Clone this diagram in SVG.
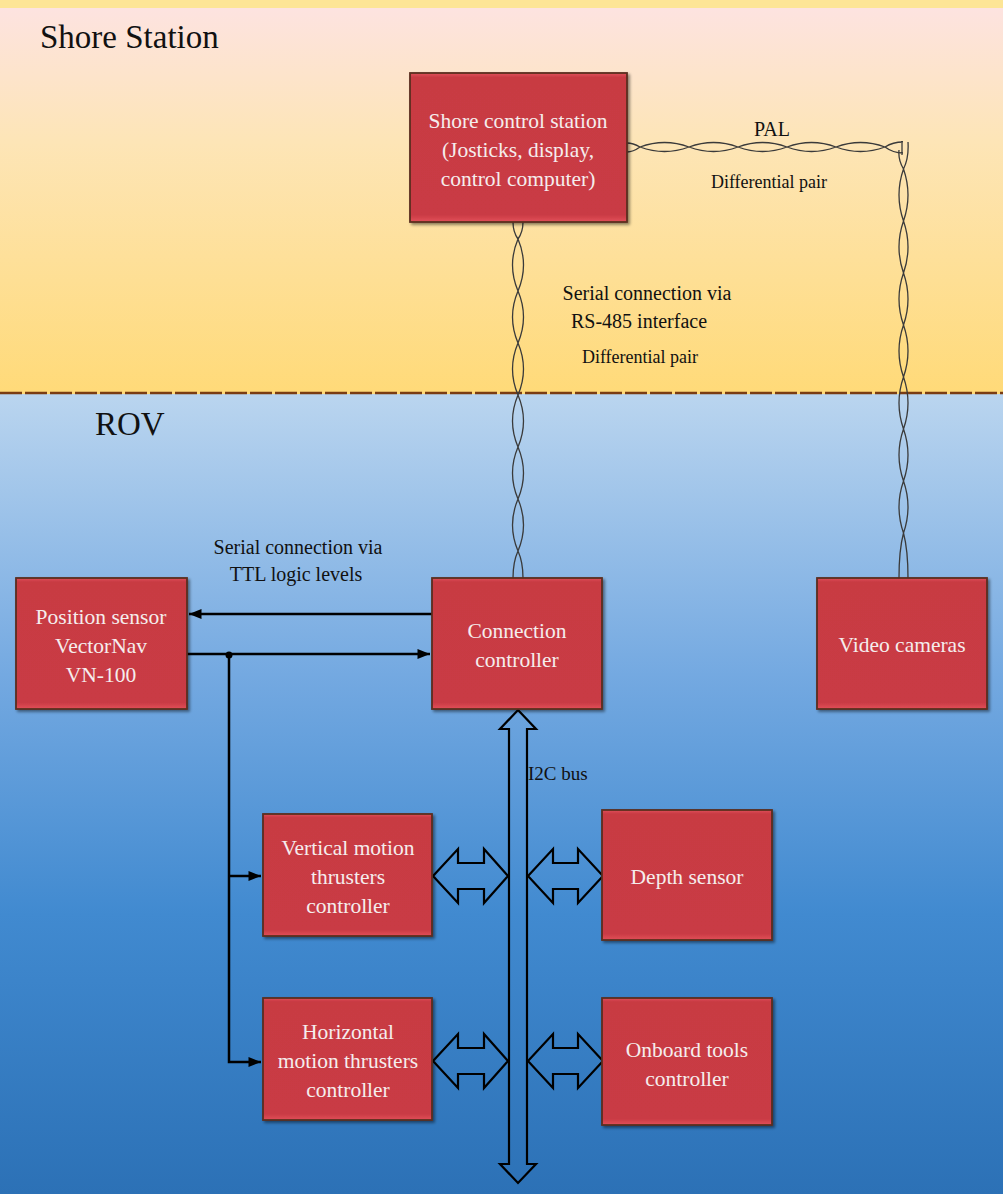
<svg xmlns="http://www.w3.org/2000/svg" width="1003" height="1194" viewBox="0 0 1003 1194">
  <defs>
    <linearGradient id="shoreBg" x1="0" y1="0" x2="0" y2="1">
      <stop offset="0" stop-color="#fde3e0"/>
      <stop offset="0.35" stop-color="#fde5b6"/>
      <stop offset="1" stop-color="#ffda78"/>
    </linearGradient>
    <linearGradient id="seaBg" x1="0" y1="0" x2="0" y2="1">
      <stop offset="0" stop-color="#bad5ef"/>
      <stop offset="0.35" stop-color="#74a9e1"/>
      <stop offset="0.65" stop-color="#418ad0"/>
      <stop offset="1" stop-color="#2c71b6"/>
    </linearGradient>
    <linearGradient id="boxFill" x1="0" y1="0" x2="0" y2="1">
      <stop offset="0" stop-color="#e0505a"/>
      <stop offset="0.03" stop-color="#c83a43"/>
      <stop offset="0.95" stop-color="#c93b44"/>
      <stop offset="1" stop-color="#e24f59"/>
    </linearGradient>
    <filter id="shadow" x="-10%" y="-10%" width="125%" height="125%">
      <feDropShadow dx="2" dy="2" stdDeviation="1.5" flood-color="#000" flood-opacity="0.45"/>
    </filter>
    <marker id="arrow" viewBox="0 0 10 10" refX="10" refY="5" markerWidth="5.5" markerHeight="5" orient="auto-start-reverse" markerUnits="strokeWidth">
      <path d="M0,1 L10,5 L0,9 Z" fill="#000"/>
    </marker>
    <style>
      .box { fill: url(#boxFill); stroke: #5a2e20; stroke-width: 1.8; filter: url(#shadow); }
      .bt { font-family: "Liberation Serif", "Times New Roman", serif; font-size: 21.5px; fill: #f5eded; text-anchor: middle; }
      .title { font-family: "Liberation Serif", "Times New Roman", serif; font-size: 33px; fill: #111; }
      .lbl { font-family: "Liberation Serif", "Times New Roman", serif; font-size: 20px; fill: #111; text-anchor: middle; }
      .lbls { font-family: "Liberation Serif", "Times New Roman", serif; font-size: 18px; fill: #111; text-anchor: middle; }
      .lblbus { font-family: "Liberation Serif", "Times New Roman", serif; font-size: 19px; fill: #111; text-anchor: start; }
      .wire { fill: none; stroke: #000; stroke-width: 2.5; }
      .pair { fill: none; stroke: #3a3a3a; stroke-width: 1.3; }
      .blk { fill: none; stroke: #000; stroke-width: 2.2; stroke-linejoin: miter; }
    </style>
  </defs>

  <!-- backdrop: shore zone over the water zone -->
  <rect x="0" y="0" width="1003" height="8" fill="#fde596"/>
  <rect x="0" y="8" width="1003" height="386" fill="url(#shoreBg)"/>
  <rect x="0" y="394" width="1003" height="800" fill="url(#seaBg)"/>
  <line x1="0" y1="393" x2="1003" y2="393" stroke="#7a3c12" stroke-width="2.5" stroke-dasharray="22 3"/>

  <text class="title" x="40" y="48">Shore Station</text>
  <text class="title" x="95" y="435">ROV</text>

  <!-- connectors -->
  <g id="connectors">
    <!-- RS-485 twisted pair -->
    <path class="pair" d="M513,222 Q513,232 518,239 M523,222 Q523,232 518,239
      M518,239 Q507,265 518,291 Q529,265 518,239
      M518,291 Q507,317 518,343 Q529,317 518,291
      M518,343 Q507,369 518,395 Q529,369 518,343
      M518,395 Q507,421 518,447 Q529,421 518,395
      M518,447 Q507,473 518,499 Q529,473 518,447
      M518,499 Q507,525 518,551 Q529,525 518,499
      M518,551 Q513,562 513,578 M518,551 Q523,562 523,578"/>
    <!-- PAL twisted pair, horizontal run -->
    <path class="pair" d="M627,143 Q633,143 640,147 M627,152 Q633,152 640,147
      M640,147 Q664.5,138 689,147 Q664.5,156 640,147
      M689,147 Q713.5,138 738,147 Q713.5,156 689,147
      M738,147 Q762.5,138 787,147 Q762.5,156 738,147
      M787,147 Q811.5,138 836,147 Q811.5,156 787,147
      M836,147 Q860.5,138 885,147 Q860.5,156 836,147
      M885,147 Q893,142 903,142 M885,147 Q893,153 903,153
      M902,141 L902,155"/>
    <!-- PAL twisted pair, vertical run -->
    <path class="pair" d="M908,142 Q909,158 903.5,169 M899,150 Q898,160 903.5,169
      M903.5,169 Q894.5,195 903.5,221 Q912.5,195 903.5,169
      M903.5,221 Q894.5,247 903.5,273 Q912.5,247 903.5,221
      M903.5,273 Q894.5,299 903.5,325 Q912.5,299 903.5,273
      M903.5,325 Q894.5,351 903.5,377 Q912.5,351 903.5,325
      M903.5,377 Q894.5,403 903.5,429 Q912.5,403 903.5,377
      M903.5,429 Q894.5,455 903.5,481 Q912.5,455 903.5,429
      M903.5,481 Q894.5,507 903.5,533 Q912.5,507 903.5,481
      M903.5,533 Q899,550 899,578 M903.5,533 Q908,550 908,578"/>

    <!-- TTL serial lines -->
    <line class="wire" x1="432" y1="614" x2="189" y2="614" marker-end="url(#arrow)"/>
    <line class="wire" x1="187" y1="654" x2="430" y2="654" marker-end="url(#arrow)"/>
    <circle cx="229" cy="655" r="3.5" fill="#000"/>
    <polyline class="wire" points="229,654 229,1062 261,1062" marker-end="url(#arrow)"/>
    <line class="wire" x1="229" y1="876" x2="261" y2="876" marker-end="url(#arrow)"/>

    <!-- I2C bus -->
    <path class="blk" d="M518,710 L536,729 L527,729 L527,1164 L536,1164 L518,1183 L500,1164 L509,1164 L509,729 L500,729 Z"/>
    <path class="blk" d="M433,876 L458,849 L458,863 L484,863 L484,849 L508,876 L484,903 L484,889 L458,889 L458,903 Z"/>
    <path class="blk" d="M528,876 L553,849 L553,863 L578,863 L578,849 L603,876 L578,903 L578,889 L553,889 L553,903 Z"/>
    <path class="blk" d="M433,1061 L458,1034 L458,1048 L484,1048 L484,1034 L508,1061 L484,1088 L484,1074 L458,1074 L458,1088 Z"/>
    <path class="blk" d="M528,1061 L553,1034 L553,1048 L578,1048 L578,1034 L603,1061 L578,1088 L578,1074 L553,1074 L553,1088 Z"/>
  </g>

  <!-- connector labels -->
  <text class="lbl" x="772" y="136">PAL</text>
  <text class="lbls" x="769" y="188">Differential pair</text>
  <text class="lbl" x="647" y="300">Serial connection via</text>
  <text class="lbl" x="639" y="328">RS-485 interface</text>
  <text class="lbls" x="640" y="363">Differential pair</text>
  <text class="lbl" x="298" y="554">Serial connection via</text>
  <text class="lbl" x="296" y="581">TTL logic levels</text>
  <text class="lblbus" x="528" y="780">I2C bus</text>

  <!-- nodes -->
  <g id="shore-control">
    <rect class="box" x="410" y="73" width="217" height="149"/>
    <text class="bt" x="518" y="128">Shore control station</text>
    <text class="bt" x="518" y="157">(Josticks, display,</text>
    <text class="bt" x="518" y="186">control computer)</text>
  </g>
  <g id="position-sensor">
    <rect class="box" x="16" y="578" width="171" height="131"/>
    <text class="bt" x="101" y="624">Position sensor</text>
    <text class="bt" x="101" y="653">VectorNav</text>
    <text class="bt" x="101" y="682">VN-100</text>
  </g>
  <g id="connection-controller">
    <rect class="box" x="432" y="578" width="170" height="131"/>
    <text class="bt" x="517" y="638">Connection</text>
    <text class="bt" x="517" y="667">controller</text>
  </g>
  <g id="video-cameras">
    <rect class="box" x="817" y="578" width="170" height="131"/>
    <text class="bt" x="902" y="652">Video cameras</text>
  </g>
  <g id="vertical-thrusters">
    <rect class="box" x="263" y="814" width="169" height="122"/>
    <text class="bt" x="348" y="855">Vertical motion</text>
    <text class="bt" x="348" y="884">thrusters</text>
    <text class="bt" x="348" y="913">controller</text>
  </g>
  <g id="depth-sensor">
    <rect class="box" x="602" y="810" width="170" height="130"/>
    <text class="bt" x="687" y="884">Depth sensor</text>
  </g>
  <g id="horizontal-thrusters">
    <rect class="box" x="263" y="998" width="169" height="122"/>
    <text class="bt" x="348" y="1039">Horizontal</text>
    <text class="bt" x="348" y="1068">motion thrusters</text>
    <text class="bt" x="348" y="1097">controller</text>
  </g>
  <g id="onboard-tools">
    <rect class="box" x="602" y="998" width="170" height="127"/>
    <text class="bt" x="687" y="1057">Onboard tools</text>
    <text class="bt" x="687" y="1086">controller</text>
  </g>
</svg>
